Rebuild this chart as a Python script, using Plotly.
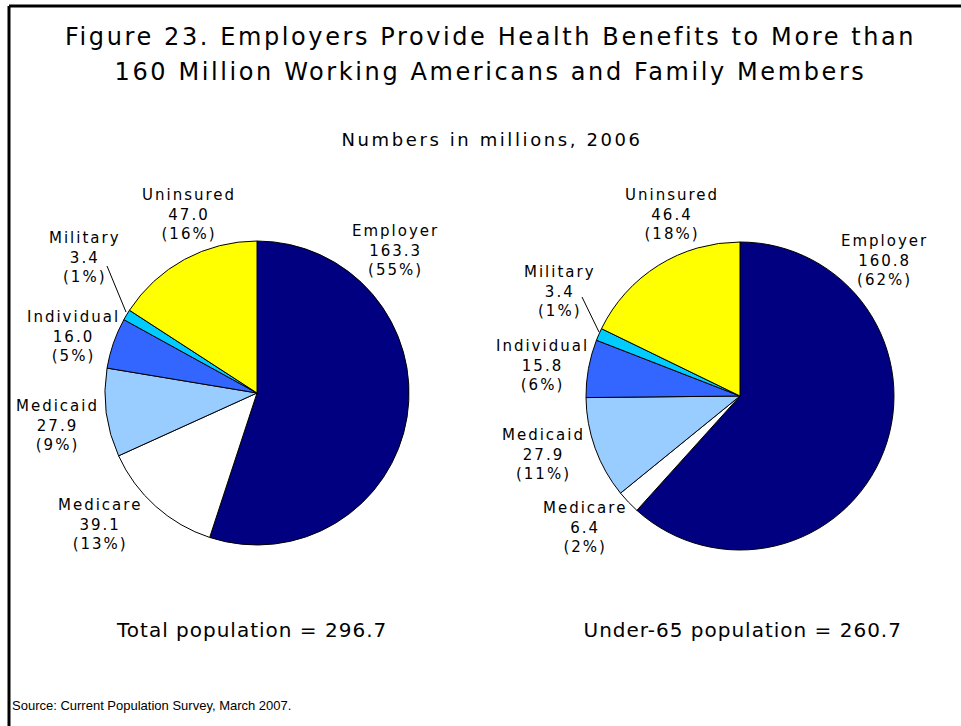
import json
import plotly.graph_objects as go

W, H = 961, 726

categories = ["Employer", "Medicare", "Medicaid", "Individual", "Military", "Uninsured"]
total_values = [163.3, 39.1, 27.9, 16.0, 3.4, 47.0]
under65_values = [160.8, 6.4, 27.9, 15.8, 3.4, 46.4]
colors = ["#000080", "#FFFFFF", "#99CCFF", "#3366FF", "#00CCFF", "#FFFF00"]

title_lines = ["Figure 23. Employers Provide Health Benefits to More than",
               "160 Million Working Americans and Family Members"]
subtitle_text = "Numbers in millions, 2006"
footer_left = "Total population = 296.7"
footer_right = "Under-65 population = 260.7"
source_text = "Source: Current Population Survey, March 2007."

FONT = "Verdana, DejaVu Sans, sans-serif"


def px(x):
    return x / W


def py(y):
    return 1 - y / H


# layout: pie centre, radius, label positions (pixel space)
pies = [
    dict(values=total_values, cx=257, cy=393, r=152,
         labels_pos=[(396, 250), (100, 524), (57, 425), (73, 336), (85, 258), (189, 214)],
         leader=((107, 266), (126, 312))),
    dict(values=under65_values, cx=740, cy=396, r=154,
         labels_pos=[(885, 260), (585, 527), (543, 454), (542, 365), (560, 291), (672, 214)],
         leader=((582, 297), (599, 332))),
]

fig = go.Figure()
annotations = []
spacing = []
shapes = []

for p in pies:
    vals = p["values"]
    tot = sum(vals)
    fig.add_trace(go.Pie(
        labels=categories, values=vals, sort=False, direction="clockwise", rotation=0,
        marker=dict(colors=colors, line=dict(color="black", width=1)),
        textinfo="none", hoverinfo="label+value+percent", showlegend=False,
        domain=dict(x=[px(p["cx"] - p["r"]), px(p["cx"] + p["r"])],
                    y=[py(p["cy"] + p["r"]), py(p["cy"] - p["r"])]),
    ))
    for name, v, (lx, ly) in zip(categories, vals, p["labels_pos"]):
        annotations.append(dict(
            x=px(lx), y=py(ly), xref="paper", yref="paper", showarrow=False,
            text=f"{name}<br>{v:.1f}<br>({round(100 * v / tot):.0f}%)",
            font=dict(family=FONT, size=15, color="black"), align="center",
            xanchor="center", yanchor="middle",
        ))
        spacing.append(2)
    (x0, y0), (x1, y1) = p["leader"]
    shapes.append(dict(type="line", xref="paper", yref="paper",
                       x0=px(x0), y0=py(y0), x1=px(x1), y1=py(y1),
                       line=dict(color="black", width=1)))

heads = [
    (title_lines[0], 490, 37, 24, 2.6),
    (title_lines[1], 490, 72, 24, 2.6),
    (subtitle_text, 492, 139, 18, 2.6),
    (footer_left, 251, 630, 20, 1.0),
    (footer_right, 742, 630, 20, 1.0),
]
for txt, x, y, sz, ls in heads:
    annotations.append(dict(x=px(x), y=py(y), xref="paper", yref="paper", showarrow=False,
                            xanchor="center", yanchor="middle", align="center", text=txt,
                            font=dict(family=FONT, size=sz, color="black")))
    spacing.append(ls)

annotations.append(dict(x=px(10), y=py(705), xref="paper", yref="paper", showarrow=False,
                        xanchor="left", yanchor="middle", text=source_text,
                        font=dict(family="Arial, Liberation Sans, sans-serif", size=13, color="black")))
spacing.append(0)

# frame: left and top border lines
shapes += [
    dict(type="line", xref="paper", yref="paper", x0=px(9), y0=0, x1=px(9), y1=py(6),
         line=dict(color="black", width=3)),
    dict(type="line", xref="paper", yref="paper", x0=px(9), y0=py(6), x1=1, y1=py(6),
         line=dict(color="black", width=3)),
]

fig.update_layout(
    width=W, height=H, margin=dict(l=0, r=0, t=0, b=0),
    paper_bgcolor="white", plot_bgcolor="white",
    annotations=annotations, shapes=shapes,
)

post = """
document.body.style.margin = '0';
var gd = document.getElementById('{plot_id}');
var sp = SPACING;
gd.querySelectorAll('g.annotation').forEach(function (g) {
  var i = parseInt(g.getAttribute('data-index'));
  var t = g.querySelector('text.annotation-text');
  if (t && sp[i]) { t.style.letterSpacing = sp[i] + 'px'; }
});
""".replace("SPACING", json.dumps(spacing))

fig.write_html("out.html", post_script=post, config={"displayModeBar": False})
